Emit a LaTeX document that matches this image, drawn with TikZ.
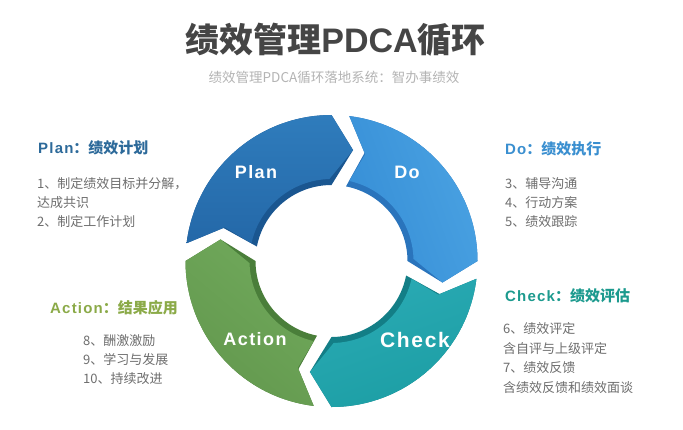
\documentclass[tikz,border=0pt]{standalone}
\usepackage{fontspec}
\setmainfont{Liberation Sans}
\newfontfamily\cjk{Noto Sans CJK SC}
\newfontfamily\spc[LetterSpace=8]{Liberation Sans}
\definecolor{planA}{HTML}{2F7CBC}
\definecolor{planB}{HTML}{2468A8}
\definecolor{planR}{HTML}{1A5690}
\definecolor{doA}{HTML}{4AA2E2}
\definecolor{doB}{HTML}{368ED6}
\definecolor{doR}{HTML}{2A74BC}
\definecolor{checkA}{HTML}{2AAAB4}
\definecolor{checkB}{HTML}{1C9EA4}
\definecolor{checkR}{HTML}{137E86}
\definecolor{actA}{HTML}{70A95B}
\definecolor{actB}{HTML}{63984E}
\definecolor{actR}{HTML}{4A7E3A}
\definecolor{planT}{HTML}{2D6A9A}
\definecolor{doT}{HTML}{3A8FD0}
\definecolor{checkT}{HTML}{1C9A8E}
\definecolor{actT}{HTML}{8BAA48}
\definecolor{bodyT}{HTML}{6E6E6E}
\definecolor{titleT}{HTML}{454545}
\definecolor{subT}{HTML}{B4B4B4}
\begin{document}
\begin{tikzpicture}[x=1pt,y=-1pt,
  ringlbl/.style={text=white, inner sep=0, font=\spc\fontsize{18}{20}\selectfont\bfseries},
  sidehead/.style={anchor=base west, inner sep=0, font=\fontsize{15}{18}\selectfont\bfseries},
  bodyline/.style={anchor=base west, inner sep=0, text=bodyT, font=\cjk\fontsize{13}{16}\selectfont}]
\useasboundingbox[fill=white] (0,0) rectangle (683,429);

% title
\node[anchor=base, inner sep=0, text=titleT, font=\bfseries\fontsize{34}{38}\selectfont] (title) at (335.5,52) {{\cjk 绩效管理}PDCA{\cjk 循环}};
\node[anchor=base, inner sep=0, text=subT, font=\cjk\fontsize{13.5}{16}\selectfont] (subtitle) at (334,82) {绩效管理PDCA循环落地系统：智办事绩效};

% ring
\begin{scope}[shift={(331.5pt,-261pt)}]
\foreach \h/\ca/\cb/\rc/\sa in {180/planA/planB/planR/0, 90/doA/doB/doR/-70, 0/checkA/checkB/checkR/20, -90/actA/actB/actR/-40} {
  \pgfmathsetmacro\hh{\h-90}
  \fill[\rc] ({\h-7}:146pt) arc[start angle={\h-7}, end angle=\hh, radius=146pt]
     -- ({\hh-11}:113pt) -- (\hh:76pt)
     arc[start angle=\hh, end angle={\h-11}, radius=76pt]
     -- ({\h-17}:113pt) -- cycle;
  \shade[left color=\ca, right color=\cb, shading angle=\sa] ({\h-7}:146pt) arc[start angle={\h-7}, end angle=\hh, radius=146pt]
     -- ({\hh-11}:113pt) -- ({\hh+1.5}:82pt)
     arc[start angle={\hh+1.5}, end angle={\h-12.5}, radius=82pt]
     -- ({\h-17.5}:112pt) -- cycle;
}
\end{scope}

\node[ringlbl] (lplan) at (256,172) {Plan};
\node[ringlbl] (ldo) at (407,172) {Do};
\node[ringlbl] (laction) at (255,339) {Action};
\node[ringlbl, font=\spc\fontsize{21}{24}\selectfont\bfseries] (lcheck) at (415,340) {Check};

% Plan
\node[sidehead, text=planT] (planh) at (38,153.5) {{\spc Plan}{\cjk ：绩效计划}};
\node[bodyline] (plan1) at (37,188) {1、制定绩效目标并分解，};
\node[bodyline] (plan2) at (37,207) {达成共识};
\node[bodyline] (plan3) at (37,226) {2、制定工作计划};

% Action
\node[sidehead, text=actT] (acth) at (50,313.5) {{\spc Action}{\cjk ：结果应用}};
\node[bodyline] (act1) at (83,345) {8、酬激激励};
\node[bodyline] (act2) at (83,364) {9、学习与发展};
\node[bodyline] (act3) at (83,383) {10、持续改进};

% Do
\node[sidehead, text=doT] (doh) at (505,154.5) {{\spc Do}{\cjk ：绩效执行}};
\node[bodyline] (do1) at (505,188) {3、辅导沟通};
\node[bodyline] (do2) at (505,207) {4、行动方案};
\node[bodyline] (do3) at (505,226) {5、绩效跟踪};

% Check
\node[sidehead, text=checkT] (checkh) at (505,301) {{\spc Check}{\cjk ：绩效评估}};
\node[bodyline] (check1) at (503,333) {6、绩效评定};
\node[bodyline] (check2) at (503,353) {含自评与上级评定};
\node[bodyline] (check3) at (503,372) {7、绩效反馈};
\node[bodyline] (check4) at (503,392) {含绩效反馈和绩效面谈};
\end{tikzpicture}
\end{document}
